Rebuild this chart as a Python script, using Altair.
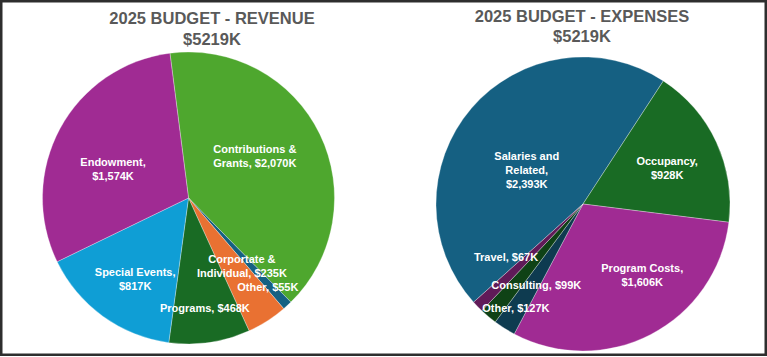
import math
import altair as alt
import pandas as pd

# ---------------- data ----------------
rev_cats = ["Contributions & Grants", "Other", "Corportate & Individual",
            "Programs", "Special Events", "Endowment"]
rev_vals = [2070, 55, 235, 468, 817, 1574]
rev_labels = ["Contributions &\nGrants, $2,070K", "Other, $55K",
              "Corportate &\nIndividual, $235K", "Programs, $468K",
              "Special Events,\n$817K", "Endowment,\n$1,574K"]

exp_cats = ["Salaries and Related", "Occupancy", "Program Costs",
            "Other", "Consulting", "Travel"]
exp_vals = [2393, 928, 1606, 127, 99, 67]
exp_labels = ["Salaries and\nRelated,\n$2,393K", "Occupancy,\n$928K",
              "Program Costs,\n$1,606K", "Other, $127K",
              "Consulting, $99K", "Travel, $67K"]

titles = [["2025 BUDGET - REVENUE", "$5219K"], ["2025 BUDGET - EXPENSES", "$5219K"]]

# ---------------- styles / layout ----------------
rev_colors = ["#4EA72E", "#156082", "#E97132", "#196B24", "#0F9ED5", "#A02B93"]
exp_colors = ["#156082", "#196B24", "#A02B93", "#0E3B50", "#0F4216", "#601A58"]

rev_geom = dict(cx=188.5, cy=198, R=146, start=-7.3)
exp_geom = dict(cx=583, cy=204, R=147, start=-131.9)

# label placement (angle nudge in degrees, radial position as fraction of radius)
rev_nudge = [-9.9, 1.1, -8.2, 0.0, -0.5, -3.5]
rev_rfrac = [0.56, 0.82, 0.56, 0.77, 0.63, 0.57]
exp_nudge = [-0.6, -1.7, -14.7, 0.2, -10.3, 9.1]
exp_rfrac = [0.50, 0.64, 0.60, 0.85, 0.64, 0.64]

TWO_PI = 2 * math.pi


def build(cats, vals, labels, colors, geom, nudge, rfrac):
    df = pd.DataFrame({"cat": cats, "value": vals, "label": labels, "color": colors})
    df["idx"] = range(len(df))
    total = df["value"].sum()
    cum = df["value"].cumsum()
    mid = geom["start"] + (cum - df["value"] / 2) / total * 360 + pd.Series(nudge)
    df["lab_angle"] = mid % 360
    df["lab_r"] = pd.Series(rfrac) * geom["R"]
    s = math.radians(geom["start"])

    arcs = alt.Chart(df).mark_arc(
        radius=geom["R"], stroke="white", strokeWidth=1, strokeOpacity=0.3
    ).encode(
        theta=alt.Theta("value:Q", stack=True, scale=alt.Scale(range=[s, s + TWO_PI])),
        order=alt.Order("idx:Q"),
        color=alt.Color("color:N", scale=None),
        x=alt.value(geom["cx"]),
        y=alt.value(geom["cy"]),
        tooltip=["cat:N", "value:Q"],
    )

    text = alt.Chart(df).mark_text(
        font="Liberation Sans", fontWeight="bold", fontSize=11, color="white",
        lineBreak="\n", lineHeight=14, align="center", baseline="middle",
    ).encode(
        theta=alt.Theta("lab_angle:Q", stack=False,
                        scale=alt.Scale(domain=[0, 360], range=[0, TWO_PI])),
        radius=alt.Radius("lab_r:Q", scale=alt.Scale(type="linear", domain=[0, 100], range=[0, 100])),
        text="label:N",
        x=alt.value(geom["cx"]),
        y=alt.value(geom["cy"]),
    )
    return arcs, text


rev_arcs, rev_text = build(rev_cats, rev_vals, rev_labels, rev_colors, rev_geom, rev_nudge, rev_rfrac)
exp_arcs, exp_text = build(exp_cats, exp_vals, exp_labels, exp_colors, exp_geom, exp_nudge, exp_rfrac)


def title_mark(lines, x, y):
    return alt.Chart(pd.DataFrame({"t": ["\n".join(lines)]})).mark_text(
        font="Liberation Sans", fontWeight="bold", fontSize=16.5, color="#595959",
        lineBreak="\n", lineHeight=20.5, align="center", baseline="middle",
    ).encode(text="t:N", x=alt.value(x), y=alt.value(y))


t1 = title_mark(titles[0], 212, 19)
t2 = title_mark(titles[1], 582, 16.5)

chart = alt.layer(
    rev_arcs, rev_text, exp_arcs, exp_text, t1, t2
).resolve_scale(
    theta="independent", radius="independent"
).properties(
    width=767, height=356, padding=0,
    autosize=alt.AutoSizeParams(type="none"),
    background="white",
).configure_view(
    stroke="#2e2e2e", strokeWidth=5
)

chart.save("out.html", embed_options={"renderer": "svg", "actions": False})
